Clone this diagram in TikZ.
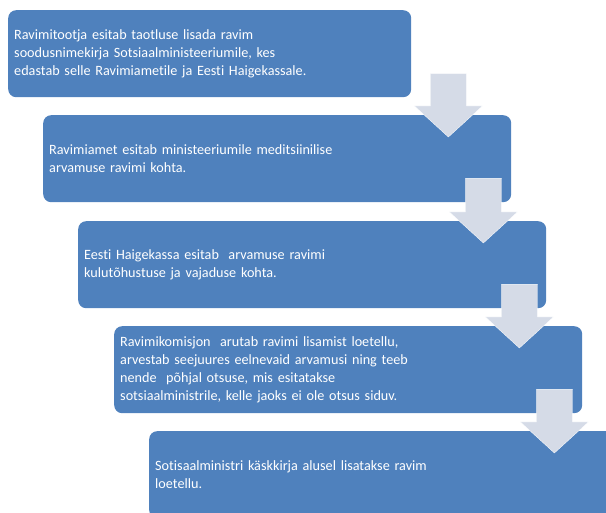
\documentclass[tikz,border=0pt]{standalone}
\usepackage{fontspec}
\setmainfont{Carlito}[Ligatures=NoCommon]
\usetikzlibrary{calc}

\definecolor{boxblue}{HTML}{4F81BD}
\definecolor{arrowgray}{HTML}{D5DBE7}

\begin{document}
\begin{tikzpicture}
		[x=1pt,y=-1pt,
		box/.style={rectangle,rounded corners=8pt,fill=boxblue,text=white,anchor=north west,minimum height=87pt,inner xsep=6pt,inner ysep=0pt,align=left,font=\fontsize{14.2}{18}\selectfont},
		blockarrow/.style={fill=arrowgray,draw=white,line width=0.3pt}]
		\path[use as bounding box,clip] (0,0) rectangle (606,513);
		\node[box,text width=391pt] (b1) at (8,10) {Ravimitootja esitab taotluse lisada ravim\\soodusnimekirja Sotsiaalministeeriumile, kes\\edastab selle Ravimiametile ja Eesti Haigekassale.};
		\node[box,text width=456pt] (b2) at (43,115) {Ravimiamet esitab ministeeriumile meditsiinilise\\arvamuse ravimi kohta.};
		\node[box,text width=456pt] (b3) at (78,221) {Eesti Haigekassa esitab\ \ arvamuse ravimi\\kulutõhustuse ja vajaduse kohta.};
		\node[box,text width=456pt] (b4) at (114,326) {Ravimikomisjon\ \ arutab ravimi lisamist loetellu,\\arvestab seejuures eelnevaid arvamusi ning teeb\\nende\ \ põhjal otsuse, mis esitatakse\\sotsiaalministrile, kelle jaoks ei ole otsus siduv.};
		\node[box,text width=456pt] (b5) at (149,431) {Sotisaalministri käskkirja alusel lisatakse ravim\\loetellu.};
		
		\foreach \from/\to in {b1/b2,b2/b3,b3/b4,b4/b5}
		{
		\coordinate (s) at ($(\from.south -| \to.east)+(-63,-24)$);
		\coordinate (t) at ($(\to.north east)+(-63,22)$);
		\draw[blockarrow] (t) -- ($(t)+(34,-31)$) -- ($(t)+(18,-31)$) -- ($(s)+(18,0)$) -- ($(s)+(-18,0)$) -- ($(t)+(-18,-31)$) -- ($(t)+(-34,-31)$) -- cycle;
		}
		\end{tikzpicture}
\end{document}
